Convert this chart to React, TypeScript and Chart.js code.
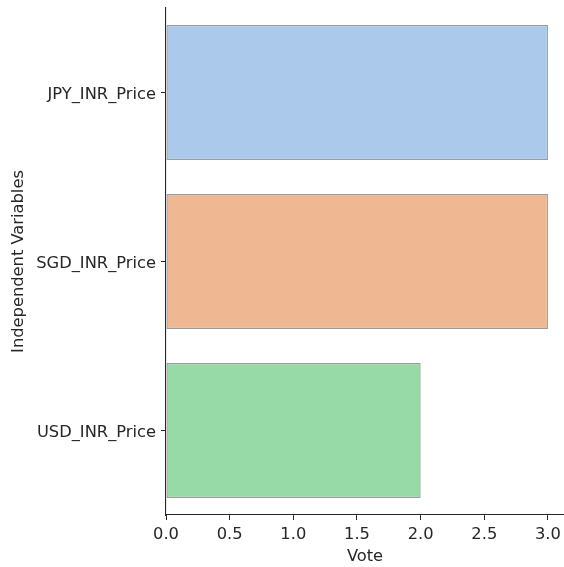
import React, { useEffect, useRef } from "react";
import { Chart, registerables } from "chart.js";

Chart.register(...registerables);

const categories = ["JPY_INR_Price", "SGD_INR_Price", "USD_INR_Price"];
const votes = [3, 3, 2];
const barColors = ["#abc9ea", "#efb792", "#98daa7"];
const xTitle = "Vote";
const yTitle = "Independent Variables";

export default function App() {
  const ref = useRef<HTMLCanvasElement | null>(null);
  useEffect(() => {
    if (!ref.current) return;
    const font = { family: "DejaVu Sans", size: 16.3 };
    const chart = new Chart(ref.current, {
      type: "bar",
      data: {
        labels: categories,
        datasets: [
          {
            data: votes,
            backgroundColor: barColors,
            borderColor: "#9a9a9a",
            borderWidth: 1.3,
            borderSkipped: false,
            categoryPercentage: 1,
            barPercentage: 0.8,
          },
        ],
      },
      options: {
        indexAxis: "y",
        animation: false,
        responsive: false,
        maintainAspectRatio: false,
        layout: { padding: { top: 8, right: 0, left: 0, bottom: 0 } },
        plugins: { legend: { display: false }, tooltip: { enabled: false } },
        scales: {
          x: {
            type: "linear",
            min: 0,
            max: 3.126,
            ticks: {
              stepSize: 0.5,
              includeBounds: false,
              color: "#262626",
              font,
              padding: 5,
              maxRotation: 0,
              callback: (v: any) => Number(v).toFixed(1),
            },
            grid: {
              drawOnChartArea: false,
              drawTicks: true,
              tickLength: 5,
              tickColor: "#262626",
              tickWidth: 1,
            },
            border: { display: true, color: "#262626", width: 1.1 },
            title: {
              display: true,
              text: xTitle,
              color: "#262626",
              font,
              padding: { top: 0, bottom: 0 },
            },
            afterFit: (s: any) => {
              s.height = 52;
              s.paddingLeft = 0;
              s.paddingRight = 0;
            },
          },
          y: {
            type: "category",
            offset: true,
            ticks: { color: "#262626", font, padding: 5, labelOffset: 2 },
            grid: {
              drawOnChartArea: false,
              drawTicks: true,
              tickLength: 5,
              tickColor: "#262626",
              tickWidth: 1,
              offset: false,
            },
            border: { display: true, color: "#262626", width: 1.1 },
            title: {
              display: true,
              text: yTitle,
              color: "#262626",
              font,
              padding: { top: 9, bottom: 0 },
            },
            afterFit: (s: any) => {
              s.width = 166;
              s.paddingTop = 0;
              s.paddingBottom = 0;
            },
          },
        },
      },
    });
    return () => chart.destroy();
  }, []);
  return (
    <div style={{ position: "fixed", left: 0, top: 0, width: 564, height: 567, background: "#fff" }}>
      <canvas ref={ref} width={564} height={567} style={{ width: 564, height: 567 }} />
    </div>
  );
}
